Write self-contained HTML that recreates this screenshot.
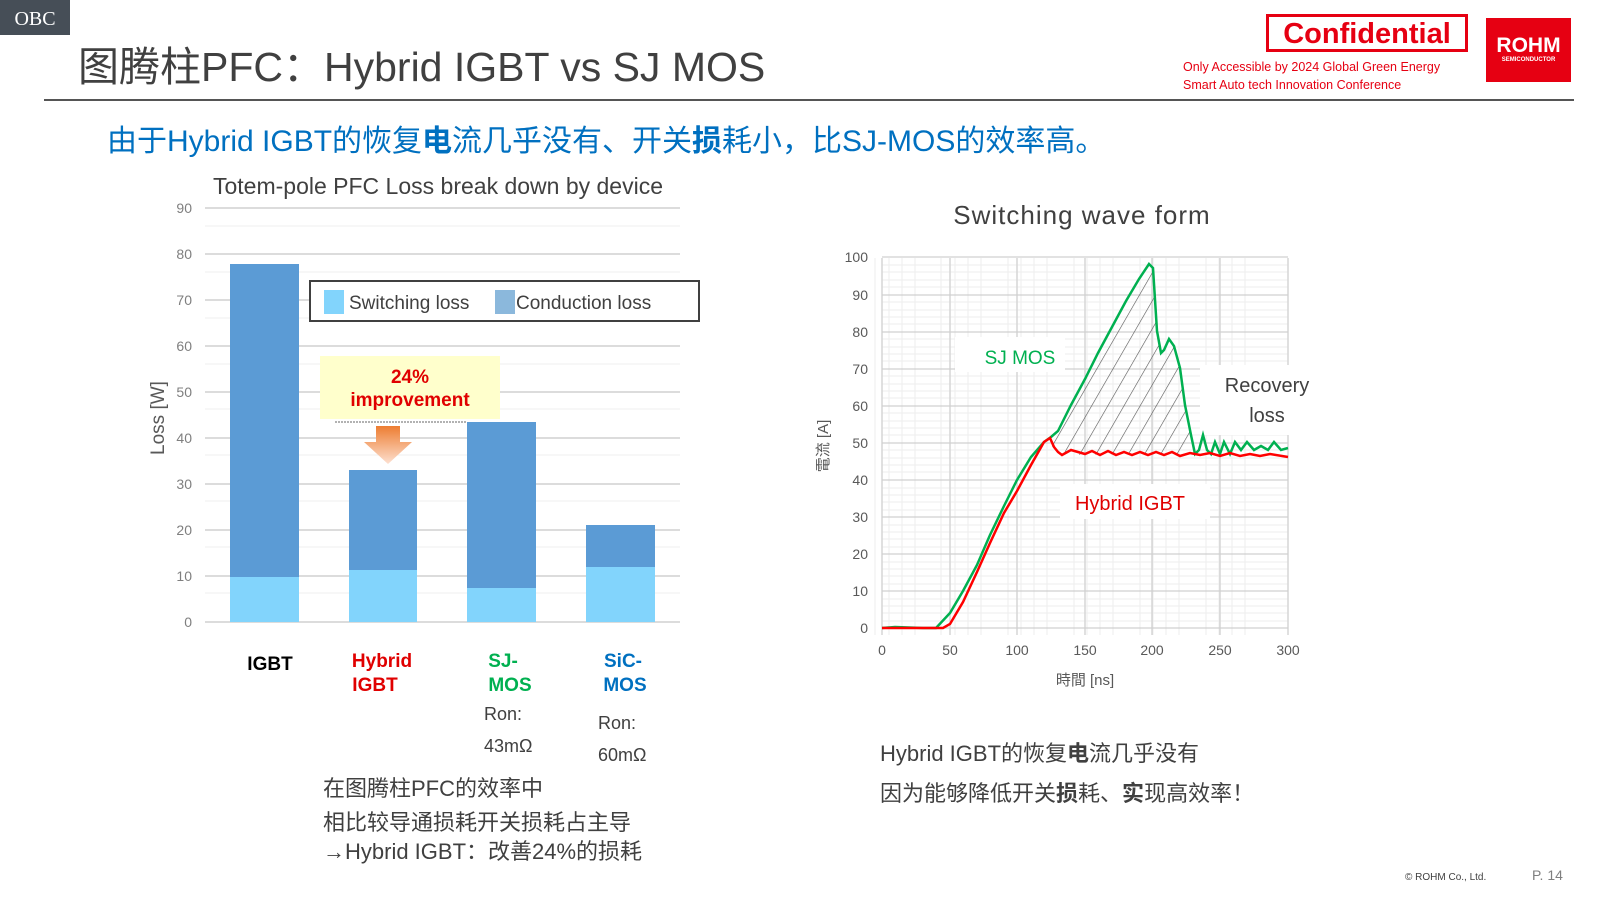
<!DOCTYPE html>
<html><head><meta charset="utf-8"><style>
body{margin:0;width:1600px;height:900px;background:#fff;overflow:hidden;position:relative;font-family:"Liberation Sans","Noto Sans CJK SC",sans-serif}
.a{position:absolute;white-space:nowrap}
</style></head><body>
<div class="a" style="left:0;top:0;width:70px;height:35px;background:#464e57;color:#fff;font:20px 'Liberation Serif',serif;line-height:38px;text-align:center">OBC</div>
<div class="a" style="left:78px;top:33px;font-size:41px;color:#404040">图腾柱PFC：Hybrid IGBT vs SJ MOS</div>
<div class="a" style="left:44px;top:99px;width:1530px;height:2px;background:#555"></div>
<div class="a" style="left:1266px;top:14px;width:202px;height:38px;border:3px solid #e60012;box-sizing:border-box;color:#e60012;font-weight:bold;font-size:29px;text-align:center;line-height:34px">Confidential</div>
<div class="a" style="left:1183px;top:58px;color:#e60012;font-size:12.5px;line-height:18px">Only Accessible by 2024 Global Green Energy<br>Smart Auto tech Innovation Conference</div>
<div class="a" style="left:1486px;top:18px;width:85px;height:64px;background:#e60012;color:#fff;font-weight:bold;font-size:21px;text-align:center;line-height:56px">ROHM<div style="position:absolute;top:38px;left:0;width:85px;font-size:6px;line-height:8px">SEMICONDUCTOR</div></div>
<div class="a" style="left:107px;top:116px;font-size:30px;color:#0070c0;font-weight:normal">由于Hybrid IGBT的恢复<b>电</b>流几乎没有、开关<b>损</b>耗小，比SJ-MOS的效率高。</div>

<svg class="a" style="left:0;top:0" width="1600" height="900" font-family="Liberation Sans, Noto Sans CJK SC, sans-serif">
<text x="438" y="194" font-size="23" fill="#404040" text-anchor="middle">Totem-pole PFC Loss break down by device</text>
<g stroke="#efefef" stroke-width="1">
<line x1="205" x2="680" y1="226" y2="226"/><line x1="205" x2="680" y1="272" y2="272"/><line x1="205" x2="680" y1="318" y2="318"/><line x1="205" x2="680" y1="364" y2="364"/><line x1="205" x2="680" y1="409" y2="409"/><line x1="205" x2="680" y1="455" y2="455"/><line x1="205" x2="680" y1="501" y2="501"/><line x1="205" x2="680" y1="547" y2="547"/><line x1="205" x2="680" y1="593" y2="593"/>
</g>
<g stroke="#dcdcdc" stroke-width="2">
<line x1="205" x2="680" y1="208" y2="208"/><line x1="205" x2="680" y1="254" y2="254"/><line x1="205" x2="680" y1="300" y2="300"/><line x1="205" x2="680" y1="346" y2="346"/><line x1="205" x2="680" y1="392" y2="392"/><line x1="205" x2="680" y1="438" y2="438"/><line x1="205" x2="680" y1="484" y2="484"/><line x1="205" x2="680" y1="530" y2="530"/><line x1="205" x2="680" y1="576" y2="576"/><line x1="205" x2="680" y1="622" y2="622"/>
</g>
<g font-size="14" fill="#7f7f7f" text-anchor="end">
<text x="192" y="213">90</text><text x="192" y="259">80</text><text x="192" y="305">70</text><text x="192" y="351">60</text><text x="192" y="397">50</text><text x="192" y="443">40</text><text x="192" y="489">30</text><text x="192" y="535">20</text><text x="192" y="581">10</text><text x="192" y="627">0</text>
</g>
<text transform="translate(164,418) rotate(-90)" font-size="19" fill="#595959" text-anchor="middle">Loss [W]</text>
<rect x="230" y="264" width="69" height="313" fill="#5b9bd5"/><rect x="230" y="577" width="69" height="45" fill="#82d4fc"/>
<rect x="349" y="470" width="68" height="100" fill="#5b9bd5"/><rect x="349" y="570" width="68" height="52" fill="#82d4fc"/>
<rect x="467" y="422" width="69" height="166" fill="#5b9bd5"/><rect x="467" y="588" width="69" height="34" fill="#82d4fc"/>
<rect x="586" y="525" width="69" height="42" fill="#5b9bd5"/><rect x="586" y="567" width="69" height="55" fill="#82d4fc"/>
<rect x="310" y="281" width="389" height="40" fill="#fff" stroke="#404040" stroke-width="2"/>
<rect x="324" y="290" width="20" height="24" fill="#82d4fc"/><text x="349" y="309" font-size="19" fill="#404040">Switching loss</text>
<rect x="495" y="290" width="20" height="24" fill="#8bb8dc"/><text x="516" y="309" font-size="19" fill="#404040">Conduction loss</text>
<rect x="320" y="356" width="180" height="63" fill="#ffffcc"/>
<text x="410" y="383" font-size="19" font-weight="bold" fill="#e00000" text-anchor="middle">24%</text>
<text x="410" y="406" font-size="19" font-weight="bold" fill="#e00000" text-anchor="middle">improvement</text>
<line x1="335" x2="467" y1="422" y2="422" stroke="#666" stroke-dasharray="2,1"/>
<defs><linearGradient id="og" x1="0" y1="0" x2="0" y2="1"><stop offset="0" stop-color="#ed7d31"/><stop offset="1" stop-color="#fde0d0"/></linearGradient>
<pattern id="hp" width="14" height="14" patternUnits="userSpaceOnUse" patternTransform="rotate(30)"><line x1="0" y1="0" x2="0" y2="14" stroke="#555" stroke-width="1.2"/></pattern></defs>
<path d="M376,426 h24 v16 h12 l-24,22 l-24,-22 h12z" fill="url(#og)"/>
<g font-size="19" font-weight="bold" text-anchor="middle">
<text x="270" y="670" fill="#000">IGBT</text>
<text x="382" y="667" fill="#e00000">Hybrid</text><text x="375" y="691" fill="#e00000">IGBT</text>
<text x="503" y="667" fill="#00b050">SJ-</text><text x="510" y="691" fill="#00b050">MOS</text>
<text x="623" y="667" fill="#0070c0">SiC-</text><text x="625" y="691" fill="#0070c0">MOS</text>
</g>
<g font-size="18" fill="#404040">
<text x="484" y="720">Ron:</text><text x="484" y="752">43mΩ</text>
<text x="598" y="729">Ron:</text><text x="598" y="761">60mΩ</text>
</g>

<text x="1082" y="224" font-size="26" fill="#404040" text-anchor="middle" letter-spacing="1">Switching wave form</text>
<g stroke="#eeeeee" stroke-width="1">
<path d="M875,258V635M889,258V635M902,258V635M915,258V635M941,258V635M955,258V635M968,258V635M981,258V635M1008,258V635M1021,258V635M1034,258V635M1047,258V635M1074,258V635M1087,258V635M1100,258V635M1113,258V635M1140,258V635M1153,258V635M1166,258V635M1179,258V635M1206,258V635M1219,258V635M1232,258V635M1245,258V635"/>
<path d="M882,265H1288M882,272H1288M882,280H1288M882,287H1288M882,302H1288M882,310H1288M882,317H1288M882,324H1288M882,339H1288M882,347H1288M882,354H1288M882,361H1288M882,376H1288M882,384H1288M882,391H1288M882,398H1288M882,413H1288M882,421H1288M882,428H1288M882,435H1288M882,450H1288M882,458H1288M882,465H1288M882,472H1288M882,488H1288M882,495H1288M882,502H1288M882,510H1288M882,525H1288M882,532H1288M882,539H1288M882,547H1288M882,562H1288M882,569H1288M882,576H1288M882,584H1288M882,599H1288M882,606H1288M882,613H1288M882,621H1288"/>
</g>
<g stroke="#d0d0d0" stroke-width="1.3">
<path d="M882,258V635M950,258V635M1017,258V635M1085,258V635M1152,258V635M1220,258V635M1288,258V635"/>
<path d="M882,257H1288M882,295H1288M882,332H1288M882,369H1288M882,406H1288M882,443H1288M882,480H1288M882,517H1288M882,554H1288M882,591H1288M882,628H1288"/>
</g>
<g font-size="14" fill="#595959" text-anchor="end">
<text x="868" y="262">100</text><text x="868" y="300">90</text><text x="868" y="337">80</text><text x="868" y="374">70</text><text x="868" y="411">60</text><text x="868" y="448">50</text><text x="868" y="485">40</text><text x="868" y="522">30</text><text x="868" y="559">20</text><text x="868" y="596">10</text><text x="868" y="633">0</text>
</g>
<g font-size="14" fill="#595959" text-anchor="middle">
<text x="882" y="655">0</text><text x="950" y="655">50</text><text x="1017" y="655">100</text><text x="1085" y="655">150</text><text x="1152" y="655">200</text><text x="1220" y="655">250</text><text x="1288" y="655">300</text>
</g>
<text x="1085" y="685" font-size="15" fill="#595959" text-anchor="middle">時間 [ns]</text>
<text transform="translate(828,446) rotate(-90)" font-size="15" fill="#595959" text-anchor="middle">電流 [A]</text>
<path d="M1051,442 L1058,431 L1071,405 L1085,379 L1098,353 L1112,327 L1126,301 L1139,279 L1149,264 L1153,268 L1157,331 L1161,353 L1164,350 L1169,339 L1174,346 L1180,368 L1185,405 L1191,435 L1195,454 L1062,455 L1054,453 Z" fill="url(#hp)"/>
<rect x="955" y="337" width="110" height="35" fill="#fff"/>
<text x="1020" y="364" font-size="19" fill="#00b050" text-anchor="middle">SJ MOS</text>
<rect x="1200" y="365" width="110" height="70" fill="#fff"/>
<text x="1267" y="392" font-size="20" fill="#404040" text-anchor="middle">Recovery</text>
<text x="1267" y="422" font-size="20" fill="#404040" text-anchor="middle">loss</text>
<path d="M882,628 L895,627 L923,628 L936,628 L950,613 L963,591 L977,565 L990,535 L1004,506 L1017,480 L1031,457 L1044,442 L1051,437 L1058,431 L1071,405 L1085,379 L1098,353 L1112,327 L1126,301 L1139,279 L1149,264 L1153,268 L1157,331 L1161,353 L1164,350 L1169,339 L1174,346 L1180,368 L1185,405 L1191,435 L1195,454 L1199,450 L1203,435 L1207,450 L1211,454 L1215,442 L1220,454 L1224,442 L1230,454 L1235,442 L1241,450 L1247,442 L1254,450 L1261,446 L1268,450 L1274,442 L1281,450 L1288,448" fill="none" stroke="#00b050" stroke-width="2.5"/>
<path d="M882,628 L943,628 L950,624 L963,602 L977,572 L990,543 L1004,513 L1017,491 L1031,465 L1044,442 L1050,438 L1054,447 L1058,452 L1062,455 L1071,450 L1085,454 L1092,451 L1100,455 L1108,451 L1116,455 L1124,452 L1132,455 L1140,452 L1148,455 L1156,452 L1164,455 L1172,452 L1180,456 L1190,453 L1200,455 L1210,453 L1220,456 L1230,453 L1240,456 L1250,454 L1260,456 L1270,454 L1288,457" fill="none" stroke="#ff0000" stroke-width="2.5"/>
<rect x="1060" y="484" width="150" height="35" fill="#fff"/>
<text x="1130" y="510" font-size="20" fill="#e00000" text-anchor="middle">Hybrid IGBT</text>
</svg>

<div class="a" style="left:323px;top:772px;font-size:22px;color:#404040;line-height:34px">在图腾柱PFC的效率中<br>相比较导通损耗开关损耗占主导</div>
<div class="a" style="left:323px;top:834px;font-size:22px;color:#404040">→Hybrid IGBT：改善24%的损耗</div>
<div class="a" style="left:880px;top:734px;font-size:22px;color:#404040;line-height:40px">Hybrid IGBT的恢复<b>电</b>流几乎没有<br>因为能够降低开关<b>损</b>耗、<b>实</b>现高效率！</div>
<div class="a" style="left:1405px;top:872px;font-size:10px;color:#404040">© ROHM Co., Ltd.</div>
<div class="a" style="left:1532px;top:867px;font-size:14px;color:#7f7f7f">P. 14</div>
</body></html>
